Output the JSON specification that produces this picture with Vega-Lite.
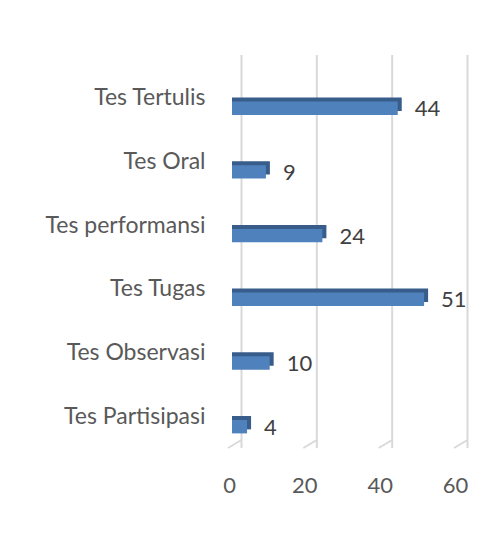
{
  "$schema": "https://vega.github.io/schema/vega-lite/v6.json",
  "width": 226,
  "height": 385,
  "autosize": "none",
  "padding": {"left": 232, "top": 63, "right": 46, "bottom": 93},
  "background": "white",
  "config": {"view": {"stroke": null}, "font": "Lato"},
  "datasets": {
    "scores": [
      {"kategori": "Tes Tertulis", "nilai": 44},
      {"kategori": "Tes Oral", "nilai": 9},
      {"kategori": "Tes performansi", "nilai": 24},
      {"kategori": "Tes Tugas", "nilai": 51},
      {"kategori": "Tes Observasi", "nilai": 10},
      {"kategori": "Tes Partisipasi", "nilai": 4}
    ],
    "ticks": [{"v": 0}, {"v": 20}, {"v": 40}, {"v": 60}]
  },
  "layer": [
    {
      "data": {"name": "ticks"},
      "mark": {"type": "rule", "color": "#d9d9d9", "strokeWidth": 2, "xOffset": 9.5, "yOffset": -8, "y2Offset": -8},
      "encoding": {
        "x": {"field": "v", "type": "quantitative", "scale": {"domain": [0, 60], "nice": false, "zero": true},
          "axis": {"title": null, "domain": false, "ticks": false, "grid": false, "values": [0, 20, 40, 60], "labelFlush": false, "labelPadding": 27, "labelOffset": -3, "labelFontSize": 22, "labelColor": "#595959", "labelFont": "Lato"}
        }
      }
    },
    {
      "data": {"name": "ticks"},
      "mark": {"type": "rule", "color": "#d9d9d9", "strokeWidth": 2, "xOffset": 9.5, "x2Offset": -4, "yOffset": -8},
      "encoding": {
        "x": {"field": "v", "type": "quantitative"},
        "x2": {"field": "v"},
        "y": {"value": "height"},
        "y2": {"value": "height"}
      }
    },
    {
      "data": {"name": "scores"},
      "mark": {"type": "bar", "color": "#385d8a", "xOffset": 4, "x2Offset": 4, "yOffset": -4},
      "encoding": {
        "y": {
          "field": "kategori", "type": "nominal",
          "sort": ["Tes Tertulis", "Tes Oral", "Tes performansi", "Tes Tugas", "Tes Observasi", "Tes Partisipasi"],
          "scale": {"range": [38.5, 370.4], "paddingInner": 0.79, "paddingOuter": 0},
          "axis": {"title": null, "domain": false, "ticks": false, "grid": false, "labelPadding": 27, "labelOffset": -10, "labelFontSize": 23, "labelColor": "#595959", "labelFont": "Lato", "labelLimit": 300}
        },
        "x": {"field": "nilai", "type": "quantitative", "stack": null}
      }
    },
    {
      "data": {"name": "scores"},
      "mark": {"type": "bar", "color": "#4f81bd"},
      "encoding": {
        "y": {"field": "kategori", "type": "nominal", "sort": ["Tes Tertulis", "Tes Oral", "Tes performansi", "Tes Tugas", "Tes Observasi", "Tes Partisipasi"]},
        "x": {"field": "nilai", "type": "quantitative", "stack": null}
      }
    },
    {
      "data": {"name": "scores"},
      "mark": {"type": "text", "align": "left", "baseline": "middle", "dx": 17, "dy": 1, "fontSize": 22, "color": "#404040", "font": "Lato"},
      "encoding": {
        "y": {"field": "kategori", "type": "nominal", "sort": ["Tes Tertulis", "Tes Oral", "Tes performansi", "Tes Tugas", "Tes Observasi", "Tes Partisipasi"]},
        "x": {"field": "nilai", "type": "quantitative"},
        "text": {"field": "nilai", "type": "quantitative"}
      }
    }
  ]
}
